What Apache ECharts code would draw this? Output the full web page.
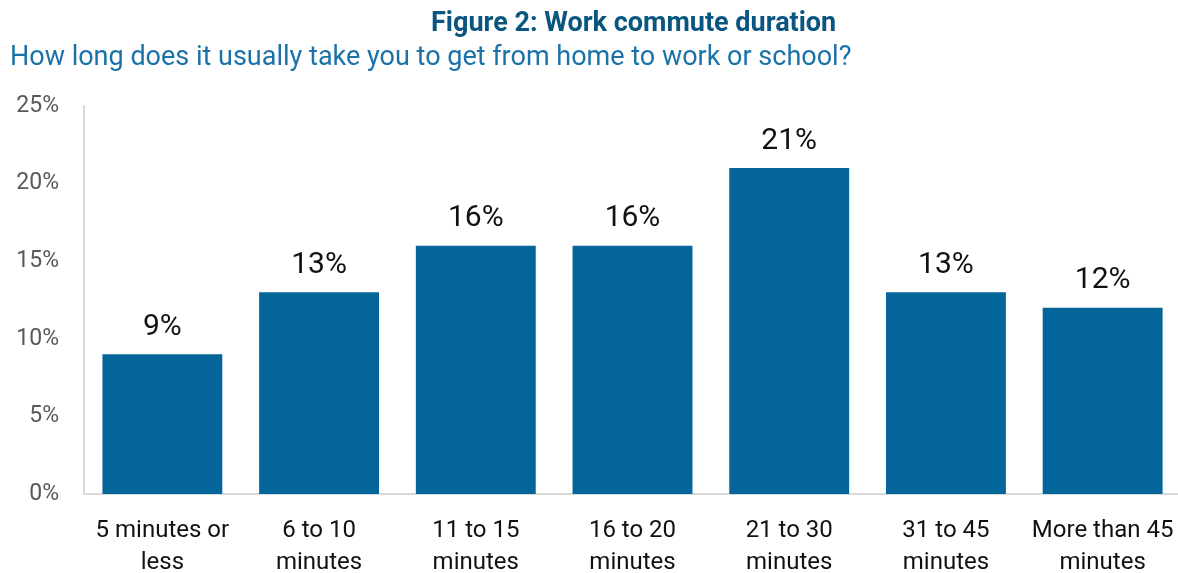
<!DOCTYPE html>
<html>
<head>
<meta charset="utf-8">
<script src="https://cdn.jsdelivr.net/npm/echarts@6/dist/echarts.min.js"></script>
<style>
  html, body { margin: 0; padding: 0; background: #ffffff; }
  #chart { width: 1178px; height: 573px; }
</style>
</head>
<body>
<div id="chart"></div>
<script>
// Commute duration categories (two-line axis labels)
const categories = [
  '5 minutes or\nless',
  '6 to 10\nminutes',
  '11 to 15\nminutes',
  '16 to 20\nminutes',
  '21 to 30\nminutes',
  '31 to 45\nminutes',
  'More than 45\nminutes'
];

// Share of respondents, percent
const shares = [9, 13, 16, 16, 21, 13, 12];

// Value axis range and step, percent
const yMin = 0;
const yMax = 25;
const yStep = 5;

const chart = echarts.init(document.getElementById('chart'), null, { renderer: 'canvas' });

chart.setOption({
  animation: false,
  backgroundColor: '#ffffff',
  textStyle: { fontFamily: 'Roboto' },
  title: [
    {
      text: 'Figure 2: Work commute duration',
      left: 426,
      top: 6,
      textStyle: { fontFamily: 'Roboto', fontWeight: 'bold', fontSize: 27, color: '#0b5680' }
    },
    {
      text: 'How long does it usually take you to get from home to work or school?',
      left: 5,
      top: 40,
      textStyle: { fontFamily: 'Roboto', fontWeight: 'normal', fontSize: 27, color: '#1b72a8' }
    }
  ],
  grid: {
    left: 84,
    right: -3,
    top: 106,
    bottom: 79,
    containLabel: false,
    outerBoundsMode: 'none'
  },
  xAxis: {
    type: 'category',
    data: categories,
    axisLine: { show: true, lineStyle: { color: '#d9d9d9', width: 2 } },
    axisTick: { show: false },
    axisLabel: {
      interval: 0,
      margin: 21,
      fontFamily: 'Roboto',
      fontSize: 24,
      lineHeight: 32,
      color: '#111111'
    }
  },
  yAxis: {
    type: 'value',
    min: yMin,
    max: yMax,
    interval: yStep,
    axisLine: { show: true, lineStyle: { color: '#d9d9d9', width: 2 } },
    axisTick: { show: false },
    splitLine: { show: false },
    axisLabel: {
      margin: 25,
      fontFamily: 'Roboto',
      fontSize: 23,
      color: '#595959',
      formatter: v => v + '%'
    }
  },
  series: [
    {
      type: 'bar',
      data: shares,
      barCategoryGap: '23.5%',
      itemStyle: { color: '#04659b' },
      label: {
        show: true,
        position: 'top',
        distance: 12,
        fontFamily: 'Roboto',
        fontSize: 30,
        color: '#111111',
        formatter: p => p.value + '%'
      }
    }
  ]
});
</script>
</body>
</html>
